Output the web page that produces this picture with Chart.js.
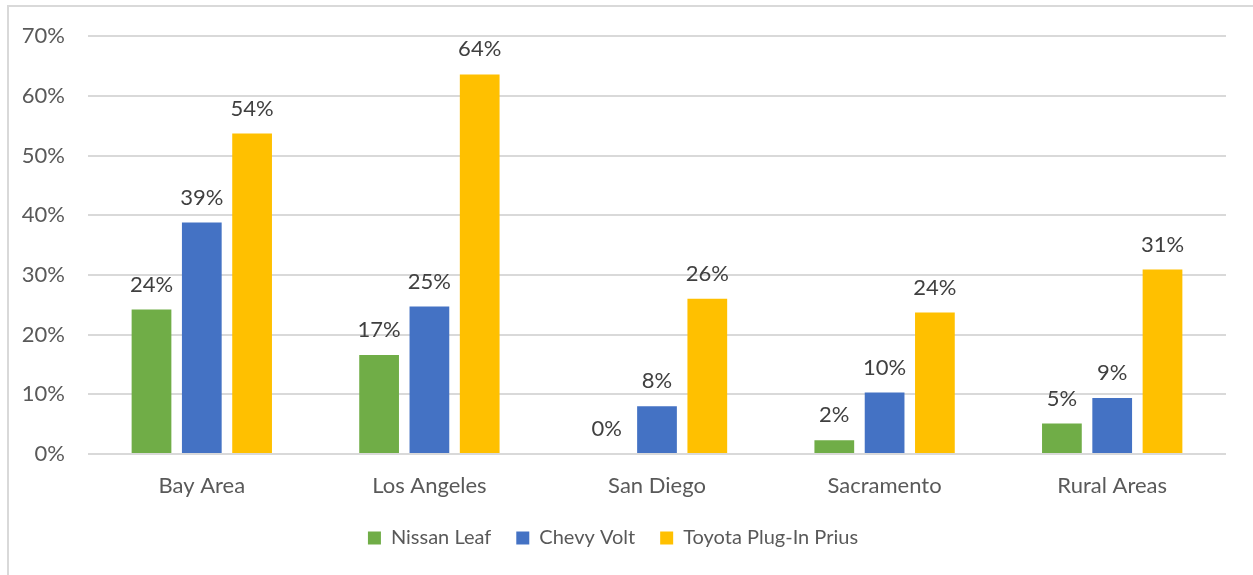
<!DOCTYPE html>
<html>
<head>
<meta charset="utf-8">
<script src="https://cdn.jsdelivr.net/npm/chart.js@4.4.1/dist/chart.umd.min.js"></script>
<style>
  html, body { margin: 0; padding: 0; background: #fff; }
  #wrap { position: relative; width: 1253px; height: 575px; }
  #frame { position: absolute; left: 7px; top: 5px; right: 0; bottom: -10px;
           border-left: 2px solid #d9d9d9; border-top: 2px solid #d9d9d9; }
  canvas { position: absolute; left: 0; top: 0; }
</style>
</head>
<body>
<div id="wrap">
  <div id="frame"></div>
  <canvas id="myChart" width="1253" height="575"></canvas>
</div>
<script>
// Chart data
const regions = ['Bay Area', 'Los Angeles', 'San Diego', 'Sacramento', 'Rural Areas'];
const nissanLeaf = [24.2, 16.6, 0, 2.3, 5.1];
const chevyVolt = [38.8, 24.7, 8.0, 10.3, 9.4];
const toyotaPrius = [53.7, 63.6, 26.0, 23.7, 30.9];
const yTicks = [0, 10, 20, 30, 40, 50, 60, 70];

const fontFamily = 'Lato, "Open Sans", sans-serif';

// Draws the value labels above each bar
const barLabels = {
    id: 'barLabels',
    afterDatasetsDraw(chart) {
        const ctx = chart.ctx;
        ctx.save();
        ctx.font = '22px ' + fontFamily;
        ctx.fillStyle = '#404040';
        ctx.textAlign = 'center';
        ctx.textBaseline = 'middle';
        chart.data.datasets.forEach((ds, i) => {
            chart.getDatasetMeta(i).data.forEach((bar, j) => {
                ctx.fillText(Math.round(ds.data[j]) + '%', bar.x, bar.y - 25);
            });
        });
        ctx.restore();
    }
};

const ctx = document.getElementById('myChart').getContext('2d');
const myChart = new Chart(ctx, {
    type: 'bar',
    data: {
        labels: regions,
        datasets: [
            { label: 'Nissan Leaf', data: nissanLeaf, backgroundColor: '#70AD47' },
            { label: 'Chevy Volt', data: chevyVolt, backgroundColor: '#4472C4' },
            { label: 'Toyota Plug-In Prius', data: toyotaPrius, backgroundColor: '#FFC000' }
        ]
    },
    options: {
        responsive: false,
        animation: false,
        categoryPercentage: 0.663,
        barPercentage: 0.79,
        layout: { padding: { top: 34, right: 27, left: 0, bottom: 17 } },
        plugins: {
            legend: {
                position: 'bottom',
                labels: {
                    boxWidth: 13,
                    boxHeight: 13,
                    padding: 25,
                    color: '#595959',
                    font: { family: fontFamily, size: 20 }
                }
            },
            tooltip: { enabled: false }
        },
        scales: {
            x: {
                grid: { display: false, drawTicks: false },
                border: { display: false },
                ticks: { color: '#595959', padding: 19, font: { family: fontFamily, size: 22 } },
                afterFit(scale) { scale.height = 49; }
            },
            y: {
                min: 0,
                max: 70,
                afterBuildTicks(scale) { scale.ticks = yTicks.map(v => ({ value: v })); },
                grid: { color: '#d9d9d9', lineWidth: 2, drawTicks: false },
                border: { display: false },
                ticks: {
                    color: '#595959',
                    padding: 23,
                    font: { family: fontFamily, size: 22 },
                    callback: v => v + '%'
                },
                afterFit(scale) { scale.width = 88; }
            }
        }
    },
    plugins: [barLabels]
});
</script>
</body>
</html>
